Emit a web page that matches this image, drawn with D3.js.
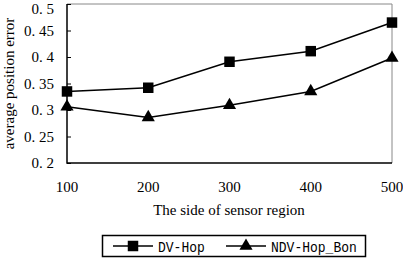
<!DOCTYPE html>
<html>
<head>
<meta charset="utf-8">
<script src="https://cdn.jsdelivr.net/npm/d3@7"></script>
<style>
  body { margin: 0; background: #fff; }
  svg { display: block; }
</style>
</head>
<body>
<svg id="chart" width="403" height="268"></svg>
<script>
const sides = [100, 200, 300, 400, 500];
const dvHop = [0.335, 0.342, 0.391, 0.411, 0.465];
const ndvHopBon = [0.306, 0.286, 0.309, 0.335, 0.398];
const yTicks = [0.2, 0.25, 0.3, 0.35, 0.4, 0.45, 0.5];

const svg = d3.select("#chart");
const mLeft = 67, mRight = 392, mTop = 4, mBottom = 163;

const x = d3.scaleLinear().domain([100, 500]).range([mLeft, mRight]);
const y = d3.scaleLinear().domain([0.2, 0.5]).range([mBottom, mTop]);

// frame top / right in grey
svg.append("path")
  .attr("d", `M${mLeft},${mTop}H${mRight}V${mBottom}`)
  .attr("fill", "none").attr("stroke", "#888").attr("stroke-width", 1);

// y axis
const fmt = v => String(+v.toFixed(2)).replace(".", ". ");
const ya = svg.append("g").attr("transform", `translate(${mLeft},0)`)
  .call(d3.axisRight(y).tickValues(yTicks).tickSize(4).tickFormat(""));
ya.select(".domain").remove();
ya.selectAll("line").attr("stroke", "#000");
svg.append("g").selectAll("text").data(yTicks).enter().append("text")
  .attr("x", 54).attr("y", d => Math.max(y(d) + 5, 13.5))
  .attr("text-anchor", "end")
  .style("font-family", "Liberation Serif, serif").style("font-size", "15px")
  .text(fmt);

// x labels
svg.append("g").selectAll("text").data(sides).enter().append("text")
  .attr("x", d => x(d)).attr("y", 192)
  .attr("text-anchor", "middle")
  .style("font-family", "Liberation Serif, serif").style("font-size", "15px")
  .text(d => d);

// black axes
svg.append("path")
  .attr("d", `M${mLeft},${mTop}V${mBottom}H${mRight}`)
  .attr("fill", "none").attr("stroke", "#000").attr("stroke-width", 1.5);

// titles
svg.append("text")
  .attr("transform", `translate(14,${(mTop + mBottom) / 2}) rotate(-90)`)
  .attr("text-anchor", "middle")
  .style("font-family", "Liberation Serif, serif").style("font-size", "15px")
  .text("average position error");
svg.append("text")
  .attr("x", 229).attr("y", 215)
  .attr("text-anchor", "middle")
  .style("font-family", "Liberation Serif, serif").style("font-size", "15px")
  .text("The side of sensor region");

const line = d3.line().x((d, i) => x(sides[i])).y(d => y(d));
const series = [
  { name: "DV-Hop", values: dvHop, sym: d3.symbolSquare, size: 110 },
  { name: "NDV-Hop_Bon", values: ndvHopBon, sym: d3.symbolTriangle, size: 75 }
];

series.forEach(s => {
  svg.append("path").datum(s.values).attr("d", line)
    .attr("fill", "none").attr("stroke", "#000").attr("stroke-width", 1.5);
  svg.append("g").selectAll("path").data(s.values).enter().append("path")
    .attr("transform", (d, i) => `translate(${x(sides[i])},${y(d)})`)
    .attr("d", d3.symbol().type(s.sym).size(s.size))
    .attr("fill", "#000");
});

// legend
const lg = svg.append("g");
lg.append("rect").attr("x", 102.5).attr("y", 235.5).attr("width", 263).attr("height", 21)
  .attr("fill", "none").attr("stroke", "#000").attr("stroke-width", 1.5);
const lx = [113, 226];
series.forEach((s, i) => {
  lg.append("line").attr("x1", lx[i]).attr("x2", lx[i] + 40).attr("y1", 246).attr("y2", 246)
    .attr("stroke", "#000").attr("stroke-width", 1.5);
  lg.append("path").attr("transform", `translate(${lx[i] + 20},246)`)
    .attr("d", d3.symbol().type(s.sym).size(s.size)).attr("fill", "#000");
  lg.append("text").attr("x", lx[i] + 45).attr("y", 252)
    .style("font-family", "Liberation Mono, monospace").style("font-size", "15px")
    .attr("textLength", s.name.length * 7.8).attr("lengthAdjust", "spacingAndGlyphs")
    .text(s.name);
});
</script>
</body>
</html>
